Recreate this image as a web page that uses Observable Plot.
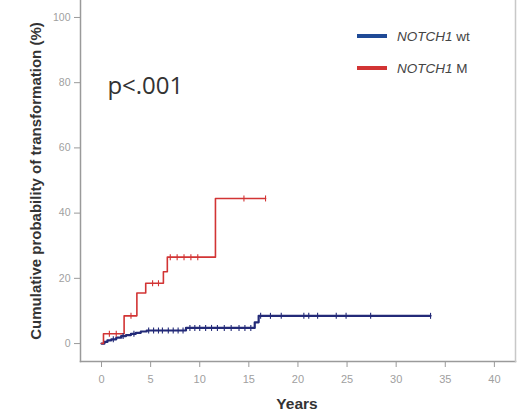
<!DOCTYPE html>
<html>
<head>
<meta charset="utf-8">
<script src="https://cdn.jsdelivr.net/npm/d3@7"></script>
<script src="https://cdn.jsdelivr.net/npm/@observablehq/plot@0.6"></script>
<style>
  html, body { margin: 0; padding: 0; background: #fff; }
  #chart { position: relative; width: 518px; height: 411px; overflow: hidden; }
</style>
</head>
<body>
<div id="chart"></div>
<script>
// Series: NOTCH1 M (mutated) — step times (years) and cumulative probability (%)
const mutTimes  = [0, 0.2, 2.3, 3.6, 4.5, 6.3, 6.7, 11.6, 16.7];
const mutValues = [0, 3, 8.5, 15.5, 18.5, 22, 26.5, 44.5, 44.5];
const mutCensor = [0.8, 1.5, 3.0, 5.2, 5.8, 7.0, 7.7, 8.4, 9.1, 9.8, 14.5, 16.7];

// Series: NOTCH1 wt — step times (years) and cumulative probability (%)
const wtTimes  = [0, 0.3, 0.6, 1.0, 1.5, 2.0, 2.5, 3.0, 3.5, 4.0, 4.6, 8.6, 15.6, 16.0, 33.5];
const wtValues = [0, 0.5, 1.0, 1.3, 1.8, 2.3, 2.6, 3.0, 3.3, 3.7, 4.0, 4.8, 6.5, 8.5, 8.5];
const wtCensor = [1.2, 2.2, 3.3, 4.8, 5.3, 5.8, 6.2, 6.8, 7.3, 7.8, 8.3, 9.0, 9.5, 10.0, 10.6, 11.2,
                  11.8, 12.5, 13.2, 14.0, 14.6, 15.2, 16.2, 17.2, 18.3, 20.6, 21.1, 22.0, 23.9, 24.9, 27.4, 33.5];

const xTicks = [0, 5, 10, 15, 20, 25, 30, 35, 40];
const yTicks = [0, 20, 40, 60, 80, 100];

const seriesNames = ["NOTCH1 wt", "NOTCH1 M"];
const seriesColors = ["#232a78", "#d23434"];
const pLabel = "p<.001";

function toRows(times, values, group) {
  return times.map((t, i) => ({t, v: values[i], group}));
}
function levelAt(times, values, t) {
  let v = values[0];
  for (let i = 0; i < times.length; i++) if (times[i] <= t) v = values[i];
  return v;
}
const rows = [...toRows(wtTimes, wtValues, seriesNames[0]), ...toRows(mutTimes, mutValues, seriesNames[1])];
const censorRows = [
  ...wtCensor.map(t => ({t, v: levelAt(wtTimes, wtValues, t), group: seriesNames[0]})),
  ...mutCensor.map(t => ({t, v: levelAt(mutTimes, mutValues, t), group: seriesNames[1]}))
];

const vbar = {draw(ctx, size) { const r = Math.sqrt(size / Math.PI); ctx.moveTo(0, -r); ctx.lineTo(0, r); }};

const plot = Plot.plot({
  width: 518,
  height: 411,
  marginLeft: 80,
  marginRight: 3,
  marginTop: 0,
  marginBottom: 50,
  style: {fontFamily: "Arial, 'Liberation Sans', sans-serif", background: "#fff"},
  x: {domain: [-2.14, 42.15], ticks: xTicks, label: null},
  y: {domain: [-5.5, 105.2], ticks: yTicks, label: null},
  color: {domain: seriesNames, range: seriesColors},
  marks: [
    Plot.axisX({ticks: xTicks, tickSize: 6, tickPadding: 8, fontSize: 11, fill: "#a0a0a0", stroke: "#9a9a9a", label: null}),
    Plot.axisY({ticks: yTicks, tickSize: 6, tickPadding: 4, fontSize: 10.5, fill: "#a0a0a0", stroke: "#9a9a9a", label: null}),
    Plot.frame({anchor: "left", stroke: "#9a9a9a", strokeWidth: 1.5}),
    Plot.frame({anchor: "bottom", stroke: "#9a9a9a", strokeWidth: 1.5}),
    Plot.frame({anchor: "right", stroke: "#c8c8c8", strokeWidth: 1.5}),
    Plot.line(rows.filter(d => d.group === seriesNames[0]), {x: "t", y: "v", stroke: "group", curve: "step-after", strokeWidth: 2.2}),
    Plot.line(rows.filter(d => d.group === seriesNames[1]), {x: "t", y: "v", stroke: "group", curve: "step-after", strokeWidth: 1.6}),
    Plot.dot(censorRows, {x: "t", y: "v", stroke: "group", symbol: vbar, r: 3, strokeWidth: 1.1}),
    Plot.text([pLabel], {x: 0.6, y: 79, text: d => d, textAnchor: "start", fontSize: 24, fill: "#333", fontFamily: "'Open Sans', Arial, sans-serif"})
  ]
});

const container = document.getElementById("chart");
container.appendChild(plot);

// Axis titles as real text, overlaid
const svgNS = "http://www.w3.org/2000/svg";
const overlay = document.createElementNS(svgNS, "svg");
overlay.setAttribute("width", 518);
overlay.setAttribute("height", 411);
overlay.style.position = "absolute";
overlay.style.left = "0";
overlay.style.top = "0";
overlay.style.pointerEvents = "none";
overlay.style.fontFamily = "Arial, 'Liberation Sans', sans-serif";

function addText(x, y, str, opts = {}) {
  const t = document.createElementNS(svgNS, "text");
  t.setAttribute("x", x);
  t.setAttribute("y", y);
  t.setAttribute("text-anchor", opts.anchor || "middle");
  t.setAttribute("font-size", opts.size || 12);
  t.setAttribute("font-weight", opts.weight || "normal");
  t.setAttribute("fill", opts.fill || "#222");
  if (opts.transform) t.setAttribute("transform", opts.transform);
  if (opts.style) t.setAttribute("font-style", opts.style);
  t.textContent = str;
  overlay.appendChild(t);
  return t;
}
addText(297, 409, "Years", {size: 15.5, weight: "bold", fill: "#333"});
addText(0, 0, "Cumulative probability of transformation (%)", {size: 15, weight: "bold", fill: "#333", transform: "translate(41,181) rotate(-90)"});

// Legend
const legendY = [36, 68];
seriesNames.forEach((name, i) => {
  const l = document.createElementNS(svgNS, "line");
  l.setAttribute("x1", 357); l.setAttribute("x2", 387);
  l.setAttribute("y1", legendY[i]); l.setAttribute("y2", legendY[i]);
  l.setAttribute("stroke", i === 0 ? "#1f4a96" : "#d23434");
  l.setAttribute("stroke-width", 4);
  overlay.appendChild(l);
  const t = addText(397, legendY[i] + 5, "", {anchor: "start", size: 13.5, fill: "#444"});
  const [gene, rest] = name.split(" ");
  const ts1 = document.createElementNS(svgNS, "tspan");
  ts1.setAttribute("font-style", "italic");
  ts1.textContent = gene;
  const ts2 = document.createElementNS(svgNS, "tspan");
  ts2.textContent = " " + rest;
  t.appendChild(ts1); t.appendChild(ts2);
});
container.appendChild(overlay);
</script>
</body>
</html>
